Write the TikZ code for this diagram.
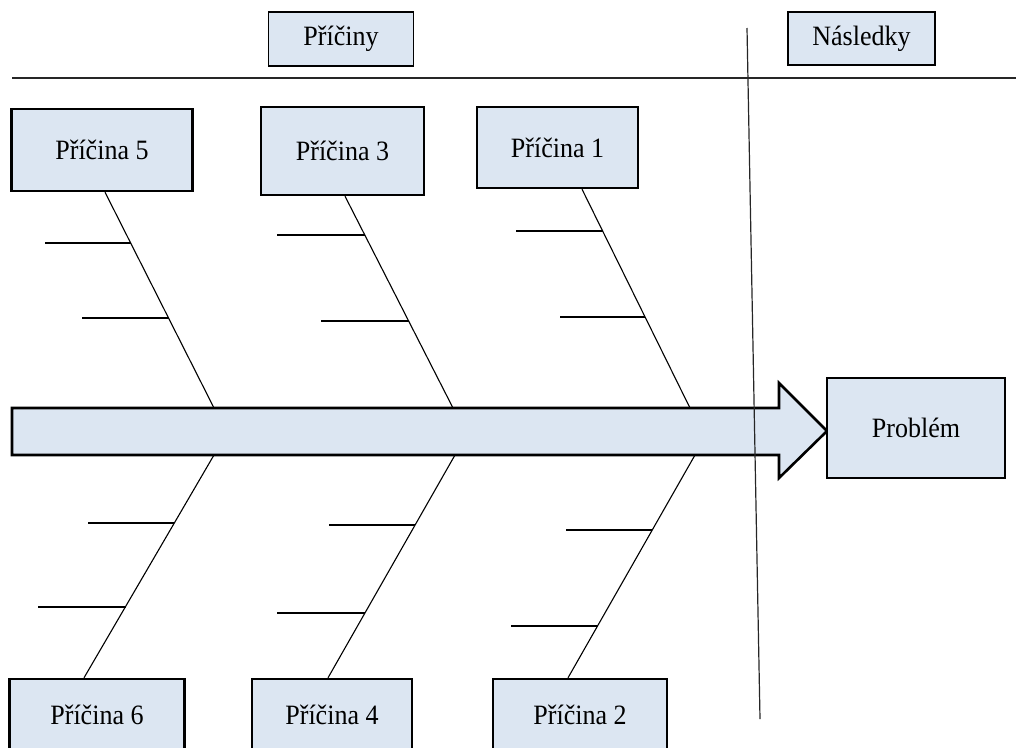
\documentclass[tikz,border=0pt]{standalone}
\usepackage{fontspec}
\setmainfont[FakeStretch=0.93]{Liberation Serif}
\definecolor{boxfill}{HTML}{DCE6F2}
\begin{document}
\begin{tikzpicture}[x=1pt,y=-1pt,
  font=\fontsize{28}{32}\selectfont,
  causebox/.style={draw=black,line width=2.4pt,fill=boxfill,inner sep=0pt},
  headbox/.style={draw=black,line width=1.2pt,fill=boxfill,inner sep=0pt},
  bone/.style={line width=1.1pt},
  rib/.style={line width=1.1pt},
  divider/.style={line width=1.4pt,draw=black!85}]
\useasboundingbox (0,0) rectangle (1016,747);
\clip (0,0) rectangle (1016,747);

% column headings
\node[headbox,minimum width=145pt,minimum height=54pt] (pri) at (341,39) {Příčiny};
\node[headbox,minimum width=147pt,minimum height=53pt] (nas) at (861.5,38.5) {Následky};

% dividing lines
\coordinate (hl) at (12,78);
\coordinate (hr) at (1016,78);
\draw[divider] (hl) -- (hr);
\coordinate (vt) at (747,28);
\coordinate (vb) at (760,719);

% main arrow (spine)
\draw[line width=2.6pt,fill=boxfill]
  (12,408) -- (779,408) -- (779,383) -- (827,431) -- (779,478) -- (779,455) -- (12,455) -- cycle;
\draw[divider,line width=1.2pt] (vt) -- (vb);

% problem box
\node[causebox,minimum width=178pt,minimum height=100pt] (prob) at (916,428) {Problém};

% cause boxes
\node[causebox,minimum width=181pt,minimum height=82pt] (c5) at (102,150) {Příčina 5};
\node[causebox,minimum width=163pt,minimum height=88pt] (c3) at (342.5,151) {Příčina 3};
\node[causebox,minimum width=161pt,minimum height=81pt] (c1) at (557.5,147.5) {Příčina 1};
\node[causebox,minimum width=175pt,minimum height=72pt] (c6) at (97,715) {Příčina 6};
\node[causebox,minimum width=160pt,minimum height=72pt] (c4) at (332,715) {Příčina 4};
\node[causebox,minimum width=174pt,minimum height=72pt] (c2) at (580,715) {Příčina 2};

% bone end points on the spine
\coordinate (s5) at (214,408);
\coordinate (s3) at (453,408);
\coordinate (s1) at (690,408);
\coordinate (s6) at (214,455);
\coordinate (s4) at (455,455);
\coordinate (s2) at (695,455);

% bones
\draw[bone] (c5.south -| 105,0) -- (s5);
\draw[bone] (c3.south -| 345,0) -- (s3);
\draw[bone] (c1.south -| 582,0) -- (s1);
\draw[bone] (c6.north -| 84,0) -- (s6);
\draw[bone] (c4.north -| 328,0) -- (s4);
\draw[bone] (c2.north -| 568,0) -- (s2);

% ribs
\draw[rib] (45,243) -- (131,243);
\draw[rib] (82,318) -- (169,318);
\draw[rib] (277,235) -- (365,235);
\draw[rib] (321,321) -- (409,321);
\draw[rib] (516,231) -- (603,231);
\draw[rib] (560,317) -- (645,317);
\draw[rib] (88,523) -- (174,523);
\draw[rib] (38,607) -- (126,607);
\draw[rib] (329,525) -- (415,525);
\draw[rib] (277,613) -- (365,613);
\draw[rib] (566,530) -- (652,530);
\draw[rib] (511,626) -- (598,626);
\end{tikzpicture}
\end{document}
